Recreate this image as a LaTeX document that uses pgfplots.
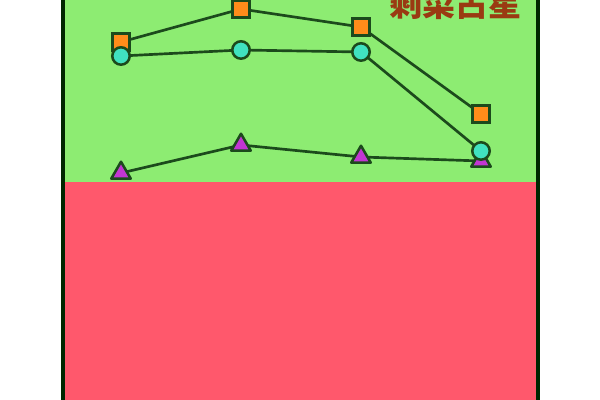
\documentclass[border=0pt]{standalone}
\usepackage{pgfplots}
\pgfplotsset{compat=1.18}
\usepackage{fontspec}
\newfontfamily\cjk{Noto Sans CJK SC}
\definecolor{bggreen}{HTML}{8DEC72}
\definecolor{bgred}{HTML}{FF586C}
\definecolor{edgegreen}{HTML}{1C4A1C}
\definecolor{sqorange}{HTML}{FF8C1A}
\definecolor{circcyan}{HTML}{40E2C0}
\definecolor{tripurple}{HTML}{C236D2}
\definecolor{titlered}{HTML}{9A3A12}
\begin{document}
\begin{tikzpicture}
\useasboundingbox (0,0) rectangle (15cm,10cm);
\clip (0,0) rectangle (15cm,10cm);
\begin{axis}[
  at={(0,0)}, anchor=south west,
  width=15cm, height=10cm, scale only axis,
  xmin=-0.00833, xmax=4.99167, ymin=0, ymax=400,
  hide axis, clip=false,
]
% background bands
\addplot[draw=none, fill=bgred] coordinates {(0.517,-5) (4.475,-5) (4.475,218) (0.517,218)} -- cycle;
\addplot[draw=none, fill=bggreen] coordinates {(0.517,218) (4.475,218) (4.475,405) (0.517,405)} -- cycle;
% side borders
\addplot[line width=2.2pt, color=black!85!green] coordinates {(0.517,-5) (0.517,405)};
\addplot[line width=2.2pt, color=black!85!green] coordinates {(4.475,-5) (4.475,405)};
% series
\addplot[line width=1.9pt, color=edgegreen, mark=triangle*, mark size=8pt,
  mark options={fill=tripurple, draw=edgegreen, line width=1.8pt, line join=round}]
  coordinates {(1,227) (2,255) (3,243) (4,239)};
\addplot[line width=1.9pt, color=edgegreen, mark=square*, mark size=6.2pt,
  mark options={fill=sqorange, draw=edgegreen, line width=1.8pt}]
  coordinates {(1,358) (2,391) (3,373) (4,286)};
\addplot[line width=1.9pt, color=edgegreen, mark=*, mark size=6.2pt,
  mark options={fill=circcyan, draw=edgegreen, line width=1.8pt}]
  coordinates {(1,344) (2,350) (3,348) (4,249)};
\node[text=titlered, font=\cjk\bfseries\fontsize{23.5pt}{26pt}\selectfont, anchor=center]
  at (axis cs:3.79,396) {剩菜占星};
\end{axis}
\end{tikzpicture}
\end{document}
